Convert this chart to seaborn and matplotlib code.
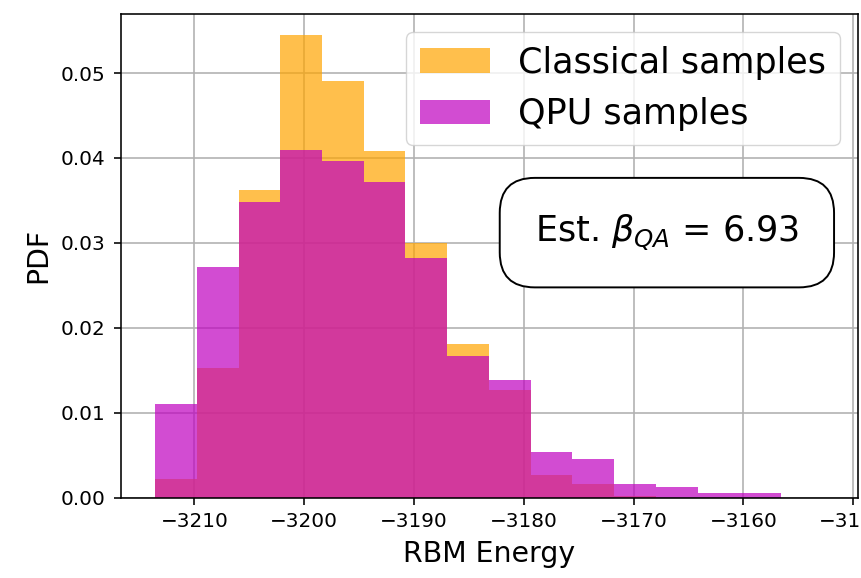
import numpy as np
import matplotlib
matplotlib.use("Agg")
import matplotlib.pyplot as plt
import seaborn as sns

# Histogram bin edges (RBM energy)
bin_left = -3213.58
bin_width = 3.80
n_bins = 15
bin_edges = [bin_left + i * bin_width for i in range(n_bins + 1)]
bin_centers = [bin_left + (i + 0.5) * bin_width for i in range(n_bins)]

# Probability densities
classical_pdf = [0.00217, 0.01528, 0.03624, 0.05450, 0.04908, 0.04080, 0.02996,
                 0.01807, 0.01265, 0.00267, 0.00161, 0.00020, 0.0, 0.0, 0.0]
qpu_pdf = [0.01104, 0.02714, 0.03487, 0.04099, 0.03962, 0.03715, 0.02820,
           0.01669, 0.01383, 0.00542, 0.00459, 0.00161, 0.00122, 0.00055, 0.00055]

series_labels = ["Classical samples", "QPU samples"]
beta_text = r"Est. $\beta_{QA}$ = 6.93"
x_ticks = [-3210, -3200, -3190, -3180, -3170, -3160, -3150]
y_ticks = [0.0, 0.01, 0.02, 0.03, 0.04, 0.05]

fig = plt.figure(figsize=(8.62, 5.78), dpi=100)
ax = fig.add_axes([121 / 862, 1 - 497.7 / 578, (857.7 - 121) / 862, (497.7 - 14) / 578])
ax.set_axisbelow(True)
ax.grid(True, color="#b0b0b0", linewidth=1.15)

sns.histplot(x=bin_centers, weights=classical_pdf, bins=bin_edges, stat="count",
             color="orange", alpha=0.7, linewidth=0, ax=ax, label=series_labels[0])
sns.histplot(x=bin_centers, weights=qpu_pdf, bins=bin_edges, stat="count",
             color="m", alpha=0.7, linewidth=0, ax=ax, label=series_labels[1])

ax.set_xlim(-3216.68, -3149.6)
ax.set_ylim(0, 0.05695)
ax.set_xticks(x_ticks)
ax.set_yticks(y_ticks)
ax.yaxis.set_major_formatter(matplotlib.ticker.FormatStrFormatter("%.2f"))
ax.tick_params(labelsize=14.4, length=5.0, width=1.15)
ax.tick_params(axis="x", pad=5.3)
ax.tick_params(axis="y", pad=6.5)
for s in ax.spines.values():
    s.set_linewidth(1.15)

ax.set_xlabel("RBM Energy", fontsize=20.4, labelpad=6.5)
ax.set_ylabel("PDF", fontsize=20.4, labelpad=5.5)

leg = ax.legend(fontsize=25.2, loc="upper right")

ax.text(0.741, 0.548, beta_text, transform=ax.transAxes, fontsize=25.2,
        ha="center", va="center",
        bbox=dict(boxstyle="round,pad=1", facecolor="white", edgecolor="black", linewidth=1.4))

fig.savefig("out.png", dpi=100)
